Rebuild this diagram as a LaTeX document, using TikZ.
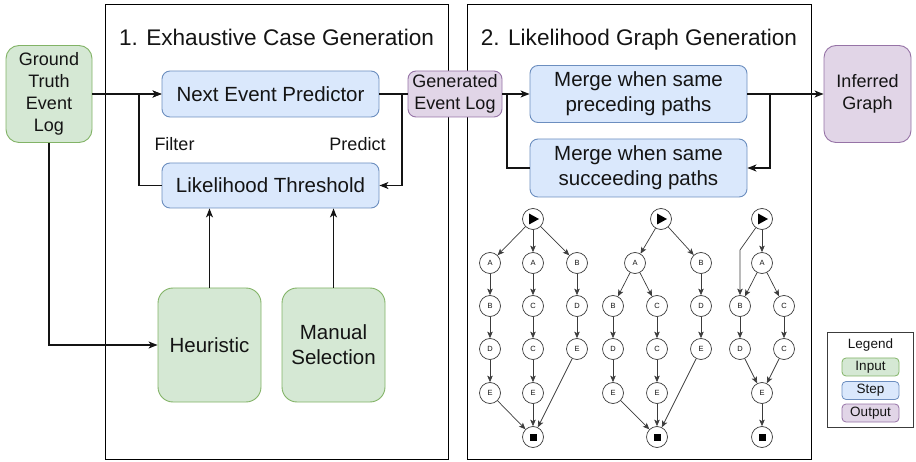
\documentclass[tikz,border=0pt]{standalone}
\usepackage{fontspec}
\setmainfont{Liberation Sans}
\usetikzlibrary{arrows.meta}
\definecolor{inFill}{HTML}{D5E8D4}
\definecolor{inLine}{HTML}{82B366}
\definecolor{stFill}{HTML}{DAE8FC}
\definecolor{stLine}{HTML}{6C8EBF}
\definecolor{outFill}{HTML}{E1D5E7}
\definecolor{outLine}{HTML}{9673A6}
\definecolor{ink}{HTML}{141414}
\definecolor{gline}{HTML}{3C3C3C}
\begin{document}
\begin{tikzpicture}[x=1pt,y=-1pt,
  text=ink,
  big/.style={font=\fontsize{20.5}{25}\selectfont},
  mid/.style={font=\fontsize{18}{22}\selectfont},
  stage/.style={draw=black, line width=0.9pt, inner sep=0pt},
  stagetitle/.style={font=\fontsize{22.6}{26}\selectfont, anchor=base},
  stepbox/.style={draw=stLine, fill=stFill, rounded corners=8pt, line width=0.9pt, inner sep=0pt, align=center, big},
  inbox/.style={draw=inLine, fill=inFill, rounded corners=13pt, line width=0.9pt, inner sep=0pt, align=center},
  outbox/.style={draw=outLine, fill=outFill, rounded corners=12pt, line width=0.9pt, inner sep=0pt, align=center, mid},
  conn/.style={draw=ink, line width=1.1pt},
  tip/.style={-{Stealth[length=9pt,width=7pt,inset=2.5pt]}},
  lbl/.style={mid, anchor=base},
  gnode/.style={circle, draw=gline, fill=white, line width=0.7pt, minimum size=21pt, inner sep=0pt, font=\fontsize{7.5}{9}\selectfont},
  startnode/.style={gnode, path picture={\fill[black] (path picture bounding box.center) ++(-4,-5.5) -- ++(10,5.5) -- ++(-10,5.5) -- cycle;}},
  endnode/.style={gnode, path picture={\fill[black] (path picture bounding box.center) ++(-3.5,-3.5) rectangle ++(7,7);}},
  gedge/.style={draw=gline, line width=0.7pt, -{Stealth[length=6.5pt,width=5.5pt,inset=1.5pt]}},
  legbox/.style={rounded corners=4pt, line width=0.8pt, minimum width=57pt, minimum height=18pt, inner sep=0pt, font=\fontsize{13.5}{16}\selectfont}
]
\useasboundingbox (0,0) rectangle (916,462);

% stage frames and titles
\node[stage, minimum width=343pt, minimum height=455pt] (stageA) at (276.5,231.5) {};
\node[stage, minimum width=344pt, minimum height=455pt] (stageB) at (639,231.5) {};
\node[stagetitle] (titleA) at (276.5,46) {1. Exhaustive Case Generation};
\node[stagetitle] (titleB) at (639,46) {2. Likelihood Graph Generation};

% input / step / output boxes
\node[inbox, mid, minimum width=86pt, minimum height=97pt] (gt) at (49,94) {Ground\\Truth\\Event\\Log};
\node[stepbox, minimum width=217pt, minimum height=46pt] (pred) at (270.5,94) {Next Event Predictor};
\node[stepbox, minimum width=217pt, minimum height=45pt] (thr) at (270.5,185.5) {Likelihood Threshold};
\node[inbox, big, minimum width=103pt, minimum height=114pt, rounded corners=15pt] (heur) at (209.5,345) {Heuristic};
\node[inbox, big, minimum width=103pt, minimum height=114pt, rounded corners=15pt] (man) at (333.5,345) {Manual\\Selection};
\node[outbox, minimum width=94pt, minimum height=46pt, rounded corners=8pt] (gel) at (455,94) {Generated\\Event Log};
\node[stepbox, minimum width=217pt, minimum height=57pt] (prec) at (638.5,94) {Merge when same\\preceding paths};
\node[stepbox, minimum width=217pt, minimum height=58pt] (succ) at (638.5,168) {Merge when same\\succeeding paths};
\node[outbox, minimum width=87pt, minimum height=97pt] (inf) at (867.5,94) {Inferred\\Graph};

\node[lbl] (filt) at (174.5,151) {Filter};
\node[lbl] (prd) at (357.5,151) {Predict};

% junction points of the loops
\coordinate (jL) at (139,94);
\coordinate (jR) at (402,94);
\coordinate (jM) at (507,94);
\coordinate (jS) at (770,94);

% connectors of stage 1
\draw[conn, tip] (gt.east) -- (pred.west);
\draw[conn, tip] (thr.west) -| (jL) -- (pred.west);
\draw[conn] (pred.east) -- (jR) -- (gel.west);
\draw[conn, tip] (jR) |- (thr.east);
\draw[conn, tip] (gt.south) |- (heur.west);
\draw[conn, tip] (heur.north) -- (heur.north |- thr.south);
\draw[conn, tip] (man.north) -- (man.north |- thr.south);

% connectors of stage 2
\draw[conn, tip] (gel.east) -- (prec.west);
\draw[conn] (succ.west) -| (jM);
\draw[conn] (prec.east) -- (jS);
\draw[conn, tip] (jS) |- (succ.east);
\draw[conn, tip] (jS) -- (inf.west);

% example graph 1
\node[startnode] (a0) at (533,219) {};
\node[gnode] (a11) at (490,263) {A};
\node[gnode] (a12) at (490,306) {B};
\node[gnode] (a13) at (490,349) {D};
\node[gnode] (a14) at (490,393) {E};
\node[gnode] (a21) at (533,263) {A};
\node[gnode] (a22) at (533,306) {C};
\node[gnode] (a23) at (533,349) {C};
\node[gnode] (a24) at (533,393) {E};
\node[gnode] (a31) at (577,263) {B};
\node[gnode] (a32) at (577,306) {D};
\node[gnode] (a33) at (577,349) {E};
\node[endnode] (aend) at (533,437) {};
\foreach \u/\v in {a0/a11,a0/a21,a0/a31,a11/a12,a12/a13,a13/a14,a21/a22,a22/a23,a23/a24,a31/a32,a32/a33,a14/aend,a24/aend,a33/aend}
  \draw[gedge] (\u) -- (\v);

% example graph 2
\node[startnode] (b0) at (661,219) {};
\node[gnode] (b1) at (635,263) {A};
\node[gnode] (b2) at (701,263) {B};
\node[gnode] (b11) at (613,306) {B};
\node[gnode] (b12) at (613,349) {D};
\node[gnode] (b13) at (613,393) {E};
\node[gnode] (b21) at (657,306) {C};
\node[gnode] (b22) at (657,349) {C};
\node[gnode] (b23) at (657,393) {E};
\node[gnode] (b31) at (701,306) {D};
\node[gnode] (b32) at (701,349) {E};
\node[endnode] (bend) at (657,437) {};
\foreach \u/\v in {b0/b1,b0/b2,b1/b11,b1/b21,b11/b12,b12/b13,b21/b22,b22/b23,b2/b31,b31/b32,b13/bend,b23/bend,b32/bend}
  \draw[gedge] (\u) -- (\v);

% example graph 3
\node[startnode] (c0) at (762,219) {};
\node[gnode] (c1) at (762,263) {A};
\node[gnode] (c2) at (740,306) {B};
\node[gnode] (c3) at (740,349) {D};
\node[gnode] (c4) at (784,306) {C};
\node[gnode] (c5) at (784,349) {C};
\node[gnode] (c6) at (762,393) {E};
\node[endnode] (cend) at (762,437) {};
\coordinate (ck) at (740,250);
\draw[gedge] (c0) -- (ck) -- (c2);
\foreach \u/\v in {c0/c1,c1/c2,c1/c4,c2/c3,c4/c5,c3/c6,c5/c6,c6/cend}
  \draw[gedge] (\u) -- (\v);

% legend
\node[draw=gline, line width=0.7pt, minimum width=86pt, minimum height=95pt, inner sep=0pt] (leg) at (870,379.5) {};
\node[font=\fontsize{13.5}{16}\selectfont] (legt) at (870.5,345) {Legend};
\node[legbox, draw=inLine, fill=inFill] (legin) at (870.5,367) {Input};
\node[legbox, draw=stLine, fill=stFill] (legst) at (870.5,390.5) {Step};
\node[legbox, draw=outLine, fill=outFill] (legout) at (870.5,413) {Output};
\end{tikzpicture}
\end{document}
